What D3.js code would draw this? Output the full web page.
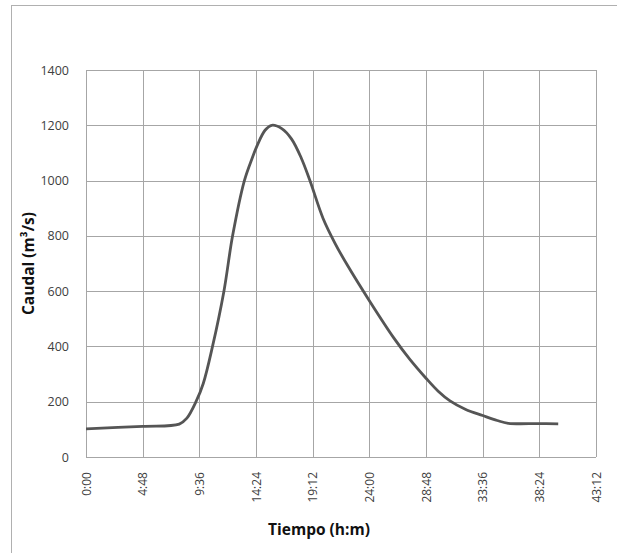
<!DOCTYPE html>
<html>
<head>
<meta charset="utf-8">
<script src="https://cdn.jsdelivr.net/npm/d3@7"></script>
<style>
  body { margin: 0; background: #fff; }
  svg { display: block; }
</style>
</head>
<body>
<svg id="chart" width="617" height="553"></svg>
<script>
// hydrograph: time in minutes, flow in m3/s
const timeMin = [0, 288, 474, 512, 559, 596, 643, 701, 745, 805, 844, 867, 910, 944,
  995, 1045, 1095, 1138, 1205, 1265, 1325, 1445, 1565, 1645, 1728, 1790, 1850, 1930, 2016, 2090, 2146, 2304, 2400];
const flow = [102, 111, 119, 140, 200, 266, 400, 600, 800, 1000, 1080, 1122, 1182, 1200,
  1188, 1150, 1080, 1000, 863, 774, 698, 560, 430, 354, 285, 238, 203, 172, 150, 132, 122, 121, 120];

const xTicks = [0, 288, 576, 864, 1152, 1440, 1728, 2016, 2304, 2592];
const yTicks = [0, 200, 400, 600, 800, 1000, 1200, 1400];

const data = timeMin.map((t, i) => ({ t: t, q: flow[i] }));

const svg = d3.select("#chart");
const margin = { top: 70, right: 21, bottom: 96, left: 86 };
const width = 617, height = 553;

// outer frame (cut off at right/bottom)
svg.append("rect")
  .attr("x", 11.5).attr("y", 5.5)
  .attr("width", 620).attr("height", 560)
  .attr("fill", "none")
  .attr("stroke", "#b0b0b0")
  .attr("stroke-width", 1);

const x = d3.scaleLinear()
  .domain([0, 2592])
  .range([margin.left, width - margin.right]);

const y = d3.scaleLinear()
  .domain([0, 1400])
  .range([height - margin.bottom, margin.top]);

const fmt = m => `${Math.floor(m / 60)}:${String(m % 60).padStart(2, "0")}`;

// gridlines
svg.append("g")
  .selectAll("line")
  .data(yTicks)
  .join("line")
  .attr("x1", x(0)).attr("x2", x(2592))
  .attr("y1", d => Math.round(y(d)) + 0.5).attr("y2", d => Math.round(y(d)) + 0.5)
  .attr("stroke", "#a6a6a6");

svg.append("g")
  .selectAll("line")
  .data(xTicks)
  .join("line")
  .attr("x1", d => Math.round(x(d)) + 0.5).attr("x2", d => Math.round(x(d)) + 0.5)
  .attr("y1", y(0)).attr("y2", y(1400))
  .attr("stroke", "#a6a6a6");

// axes, ticks hidden, just labels
svg.append("g")
  .attr("transform", `translate(${margin.left - 14},0)`)
  .call(d3.axisLeft(y).tickValues(yTicks).tickSize(0).tickFormat(d3.format("d")))
  .call(g => g.select(".domain").remove())
  .call(g => g.selectAll("text")
    .attr("font-family", "Open Sans, sans-serif")
    .attr("font-size", 12.5)
    .attr("fill", "#404040"));

svg.append("g")
  .attr("transform", `translate(0,${height - margin.bottom + 15})`)
  .call(d3.axisBottom(x).tickValues(xTicks).tickSize(0).tickFormat(fmt))
  .call(g => g.select(".domain").remove())
  .call(g => g.selectAll("text")
    .attr("font-family", "Open Sans, sans-serif")
    .attr("font-size", 12)
    .attr("fill", "#404040")
    .attr("transform", "rotate(-90)")
    .attr("text-anchor", "end")
    .attr("x", 0)
    .attr("y", 0)
    .attr("dy", "0.35em"));

// hydrograph line
const line = d3.line()
  .x(d => x(d.t))
  .y(d => y(d.q))
  .curve(d3.curveCatmullRom.alpha(0.5));

svg.append("path")
  .datum(data)
  .attr("fill", "none")
  .attr("stroke", "#555")
  .attr("stroke-width", 2.8)
  .attr("stroke-linejoin", "round")
  .attr("d", line);

// axis titles
svg.append("text")
  .attr("x", 319)
  .attr("y", 535)
  .attr("text-anchor", "middle")
  .attr("font-family", "Open Sans, sans-serif")
  .attr("font-weight", "bold")
  .attr("font-size", 15.5)
  .attr("fill", "#111")
  .text("Tiempo (h:m)");

svg.append("text")
  .attr("transform", `translate(34,${(y(0) + y(1400)) / 2}) rotate(-90)`)
  .attr("text-anchor", "middle")
  .attr("font-family", "Open Sans, sans-serif")
  .attr("font-weight", "bold")
  .attr("font-size", 15.5)
  .attr("fill", "#111")
  .text("Caudal (m³/s)");
</script>
</body>
</html>
